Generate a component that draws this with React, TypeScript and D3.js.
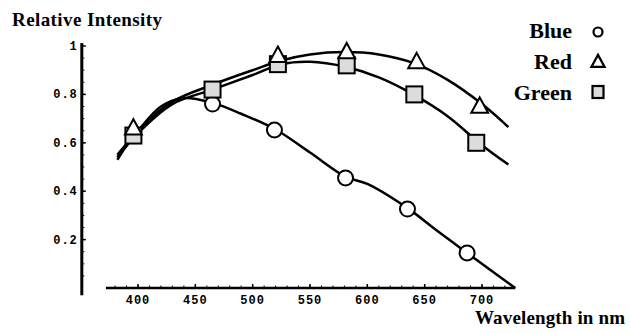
import * as d3 from 'd3';
import React from 'react';

// marker wavelengths / values
const blueMarkX = [465, 519, 581, 635, 687];
const blueMarkY = [0.76, 0.653, 0.455, 0.326, 0.145];
const redMarkX = [396, 522, 582, 643, 698];
const redMarkY = [0.66, 0.96, 0.975, 0.934, 0.75];
const greenMarkX = [396, 465, 522, 582, 641, 695];
const greenMarkY = [0.63, 0.82, 0.925, 0.92, 0.8, 0.6];

// fitted curves
const redCurveX = [382, 400, 430, 465, 500, 525, 550, 580, 610, 640, 670, 700, 723];
const redCurveY = [0.53, 0.65, 0.77, 0.84, 0.9, 0.94, 0.965, 0.975, 0.965, 0.93, 0.86, 0.76, 0.665];
const greenCurveX = [382, 400, 430, 465, 500, 525, 550, 580, 610, 640, 670, 700, 723];
const greenCurveY = [0.54, 0.64, 0.76, 0.82, 0.88, 0.925, 0.935, 0.915, 0.87, 0.8, 0.71, 0.59, 0.51];
const blueCurveX = [382, 400, 420, 440, 465, 490, 520, 550, 581, 600, 635, 660, 687, 729];
const blueCurveY = [0.55, 0.65, 0.75, 0.785, 0.765, 0.72, 0.655, 0.56, 0.46, 0.43, 0.33, 0.24, 0.145, 0.0];

const xTicks = [400, 450, 500, 550, 600, 650, 700];
const yTicks = [0.2, 0.4, 0.6, 0.8, 1];
const yTickLabels = ['0.2', '0.4', '0.6', '0.8', '1'];
const legendNames = ['Blue', 'Red', 'Green'];

export default function App() {
  const w = 631;
  const h = 333;
  const x = d3.scaleLinear().domain([400, 700]).range([138, 482]);
  const y = d3.scaleLinear().domain([0, 1]).range([288, 46]);
  const yAxisX = x(351);

  const line = d3
    .line<[number, number]>()
    .x((d) => x(d[0]))
    .y((d) => y(d[1]))
    .curve(d3.curveCatmullRom.alpha(0.5));

  const zip = (a: number[], b: number[]) => a.map((v, i) => [v, b[i]] as [number, number]);

  const tri = (cx: number, cy: number, s: number) =>
    `M${cx},${cy - s * 0.65} L${cx + s * 0.6},${cy + s * 0.45} L${cx - s * 0.6},${cy + s * 0.45} Z`;

  const minorX = d3.range(380, 730, 10);
  const minorY = d3.range(0.05, 1.0, 0.05);

  const tickFont = {
    fontFamily: 'Liberation Mono, monospace',
    fontWeight: 'bold',
    fontSize: 12,
    letterSpacing: 1,
  };
  const serif = { fontFamily: 'Liberation Serif, Times New Roman, serif' };

  return (
    <svg width={w} height={h} style={{ position: 'absolute', left: 0, top: 0, background: 'white' }}>
      <text x={12} y={26} textLength={150} style={{ ...serif, fontWeight: 'bold', fontSize: 19 }}>
        Relative Intensity
      </text>
      <text x={475} y={324} textLength={150} style={{ ...serif, fontWeight: 'bold', fontSize: 19 }}>
        Wavelength in nm
      </text>

      {/* y axis */}
      <line x1={yAxisX} x2={yAxisX} y1={y(1.012)} y2={y(-0.03)} stroke='black' strokeWidth={3} />
      {yTicks.map((t, i) => (
        <g key={t}>
          <line x1={yAxisX} x2={yAxisX + 4} y1={y(t)} y2={y(t)} stroke='black' strokeWidth={1.5} />
          <text x={yAxisX - 4} y={y(t) + 4} textAnchor='end' style={tickFont}>
            {yTickLabels[i]}
          </text>
        </g>
      ))}
      {minorY.map((t) => (
        <line key={t} x1={yAxisX} x2={yAxisX + 2.5} y1={y(t)} y2={y(t)} stroke='black' strokeWidth={1} />
      ))}

      {/* x axis */}
      <line x1={x(372)} x2={x(729)} y1={y(0)} y2={y(0)} stroke='black' strokeWidth={2.5} />
      {xTicks.map((t) => (
        <g key={t}>
          <line x1={x(t)} x2={x(t)} y1={y(0)} y2={y(0) - 4} stroke='black' strokeWidth={1.5} />
          <text x={x(t)} y={y(0) + 16} textAnchor='middle' style={tickFont}>
            {t}
          </text>
        </g>
      ))}
      {minorX.map((t) => (
        <line key={t} x1={x(t)} x2={x(t)} y1={y(0)} y2={y(0) - 2.5} stroke='black' strokeWidth={1} />
      ))}

      {/* curves */}
      <g fill='none' stroke='black' strokeWidth={2.5}>
        <path d={line(zip(redCurveX, redCurveY)) ?? ''} />
        <path d={line(zip(greenCurveX, greenCurveY)) ?? ''} />
        <path d={line(zip(blueCurveX, blueCurveY)) ?? ''} />
      </g>

      {/* markers */}
      <g stroke='black' strokeWidth={2}>
        {blueMarkX.map((v, i) => (
          <circle key={'b' + i} cx={x(v)} cy={y(blueMarkY[i])} r={7.5} fill='white' />
        ))}
        {greenMarkX.map((v, i) => (
          <rect key={'g' + i} x={x(v) - 8} y={y(greenMarkY[i]) - 8} width={16} height={16} fill='#dcdcdc' />
        ))}
        {redMarkX.map((v, i) => (
          <path key={'r' + i} d={tri(x(v), y(redMarkY[i]), 14)} fill='white' />
        ))}
      </g>

      {/* legend */}
      {legendNames.map((name, i) => (
        <text
          key={name}
          x={572}
          y={38 + i * 31}
          textAnchor='end'
          style={{ ...serif, fontWeight: 'bold', fontSize: 22 }}>
          {name}
        </text>
      ))}
      <g stroke='black' strokeWidth={2.2}>
        <circle cx={598} cy={32} r={4.5} fill='white' />
        <path d={tri(598, 62, 11)} fill='white' />
        <rect x={592.5} y={86} width={11} height={12} fill='#dcdcdc' />
      </g>
    </svg>
  );
}
